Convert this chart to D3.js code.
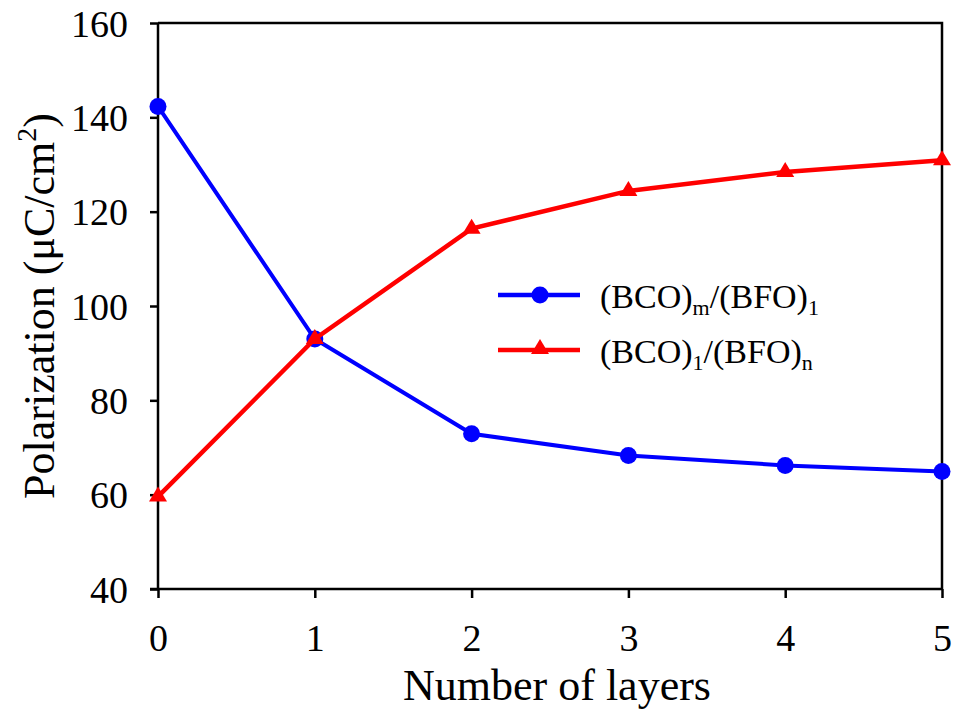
<!DOCTYPE html>
<html>
<head>
<meta charset="utf-8">
<script src="https://cdn.jsdelivr.net/npm/d3@7"></script>
<style>
  html, body { margin: 0; padding: 0; background: #fff; }
  svg { display: block; font-family: "Liberation Serif", "Times New Roman", serif; }
</style>
</head>
<body>
<svg id="chart" width="957" height="715"></svg>
<script>
// ---- data ----
const layers = [0, 1, 2, 3, 4, 5];
const bcoMbfo1 = [142.3, 93.0, 72.9, 68.3, 66.2, 64.9];
const bco1bfoN = [59.6, 93.0, 116.4, 124.4, 128.4, 130.9];
const xTicks = [0, 1, 2, 3, 4, 5];
const yTicks = [40, 60, 80, 100, 120, 140, 160];

const svg = d3.select("#chart");
const m = { left: 158, right: 942, top: 23, bottom: 589 };

const x = d3.scaleLinear().domain([0, 5]).range([m.left, m.right]);
const y = d3.scaleLinear().domain([40, 160]).range([m.bottom, m.top]);

// frame (top and right)
svg.append("path")
  .attr("d", `M${m.left},${m.top}H${m.right}V${m.bottom}`)
  .attr("fill", "none").attr("stroke", "#000").attr("stroke-width", 2.5);

// axes
const xAxis = svg.append("g").attr("transform", `translate(0,${m.bottom})`)
  .call(d3.axisBottom(x).tickValues(xTicks).tickFormat(d3.format("d")).tickSize(9).tickPadding(26));
const yAxis = svg.append("g").attr("transform", `translate(${m.left},0)`)
  .call(d3.axisLeft(y).tickValues(yTicks).tickSize(8).tickPadding(22));
[xAxis, yAxis].forEach(g => {
  g.select(".domain").attr("stroke", "#000").attr("stroke-width", 2.5);
  g.selectAll(".tick line").attr("stroke", "#000").attr("stroke-width", 2.5);
  g.selectAll(".tick text").attr("fill", "#000")
    .style("font-family", '"Liberation Serif", "Times New Roman", serif')
    .style("font-size", "38px");
});
xAxis.select(".domain").attr("d", `M${m.left - 8},0H${m.right}`);
yAxis.select(".domain").attr("d", `M0,${m.top}V${m.bottom}`);
xAxis.selectAll(".tick text").attr("dy", "0.71em");
yAxis.selectAll(".tick text").attr("dy", "0.35em");

// axis titles
svg.append("text")
  .attr("x", 557).attr("y", 700)
  .attr("text-anchor", "middle")
  .style("font-size", "44px")
  .text("Number of layers");

const yl = svg.append("text")
  .attr("transform", `translate(54,${(m.top + m.bottom) / 2}) rotate(-90)`)
  .attr("text-anchor", "middle")
  .style("font-size", "44px");
yl.append("tspan").text("Polarization (\u03BCC/cm");
yl.append("tspan").attr("dy", -18).style("font-size", "28px").text("2");
yl.append("tspan").attr("dy", 18).text(")");

// series
const line = d3.line().x((d, i) => x(layers[i])).y(d => y(d));
const triPath = "M0,-10L9,5L-9,5Z";

svg.append("path").datum(bcoMbfo1)
  .attr("d", line).attr("fill", "none").attr("stroke", "#0000ff").attr("stroke-width", 4);
svg.selectAll(".blue-pt").data(bcoMbfo1).enter().append("circle")
  .attr("cx", (d, i) => x(layers[i])).attr("cy", d => y(d)).attr("r", 8.5).attr("fill", "#0000ff");

svg.append("path").datum(bco1bfoN)
  .attr("d", line).attr("fill", "none").attr("stroke", "#ff0000").attr("stroke-width", 4.5);
svg.selectAll(".red-pt").data(bco1bfoN).enter().append("path")
  .attr("d", triPath)
  .attr("transform", (d, i) => `translate(${x(layers[i])},${y(d)})`)
  .attr("fill", "#ff0000");

// legend
const leg = svg.append("g");
const legItems = [
  { color: "#0000ff", y: 295, main1: "(BCO)", sub1: "m", main2: "/(BFO)", sub2: "1", shape: "circle" },
  { color: "#ff0000", y: 350, main1: "(BCO)", sub1: "1", main2: "/(BFO)", sub2: "n", shape: "tri" }
];
legItems.forEach(it => {
  leg.append("line").attr("x1", 498).attr("x2", 580).attr("y1", it.y).attr("y2", it.y)
    .attr("stroke", it.color).attr("stroke-width", 4.5);
  if (it.shape === "circle") {
    leg.append("circle").attr("cx", 540).attr("cy", it.y).attr("r", 8.5).attr("fill", it.color);
  } else {
    leg.append("path").attr("d", triPath).attr("transform", `translate(540,${it.y - 1})`).attr("fill", it.color);
  }
  const t = leg.append("text").attr("x", 600).attr("y", it.y + 13).style("font-size", "34px");
  t.append("tspan").text(it.main1);
  t.append("tspan").attr("dy", 7).style("font-size", "22px").text(it.sub1);
  t.append("tspan").attr("dy", -7).text(it.main2);
  t.append("tspan").attr("dy", 7).style("font-size", "22px").text(it.sub2);
});
</script>
</body>
</html>
